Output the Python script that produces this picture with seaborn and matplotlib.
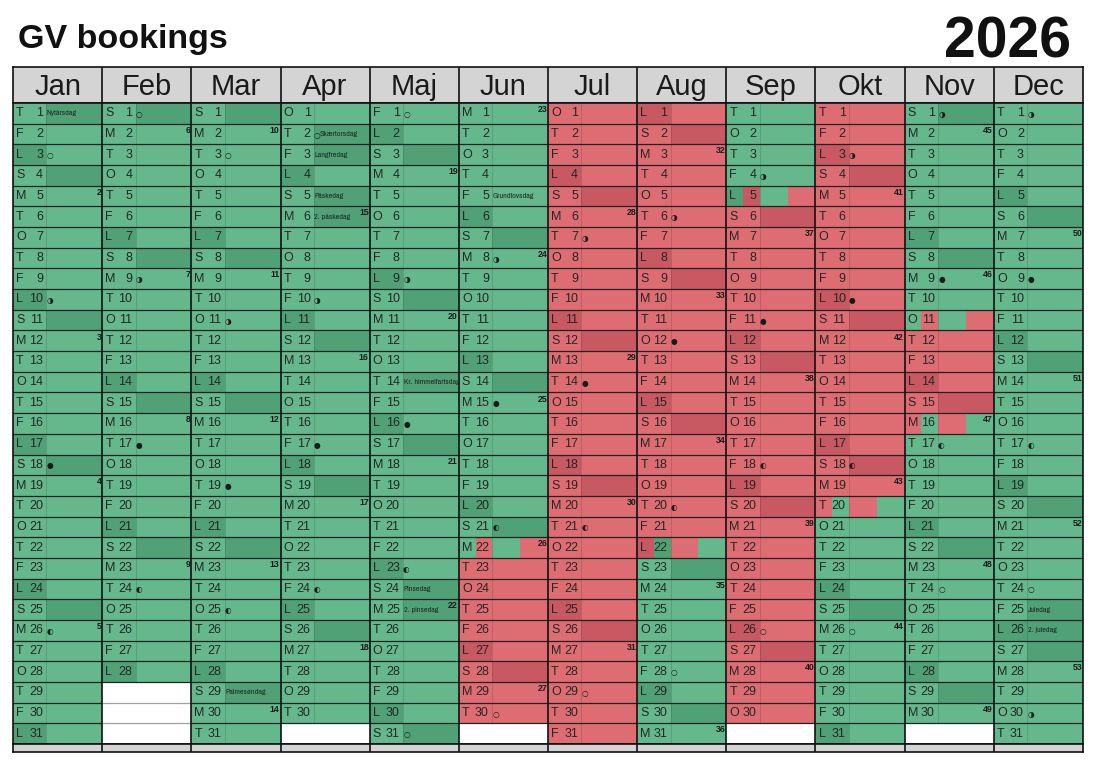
import calendar
import datetime as dt
import numpy as np
import matplotlib
matplotlib.use("Agg")
import matplotlib.pyplot as plt
from matplotlib.colors import ListedColormap
from matplotlib import font_manager
from matplotlib.font_manager import FontProperties
import seaborn as sns

# ==============================
# Data
# ==============================
YEAR = 2026
months = ["Jan", "Feb", "Mar", "Apr", "Maj", "Jun",
          "Jul", "Aug", "Sep", "Okt", "Nov", "Dec"]
weekday_letters = ["M", "T", "O", "T", "F", "L", "S"]

# booked periods (first day = arrival, last day = departure)
bookings = [("2026-06-22", "2026-08-22"),
            ("2026-09-05", "2026-10-20"),
            ("2026-11-11", "2026-11-16")]

holiday_names = {(1, 1): "Nytårsdag", (3, 29): "Palmesøndag",
                 (4, 2): "Skærtorsdag", (4, 3): "Langfredag",
                 (4, 5): "Påskedag", (4, 6): "2. påskedag",
                 (5, 14): "Kr. himmelfartsdag", (5, 24): "Pinsedag",
                 (5, 25): "2. pinsedag", (6, 5): "Grundlovsdag",
                 (12, 25): "Juledag", (12, 26): "2. juledag"}
shaded_holidays = [(1, 1), (4, 2), (4, 3), (4, 5), (4, 6),
                   (5, 14), (5, 24), (5, 25), (12, 25), (12, 26)]

full_moon = [(1, 3), (2, 1), (3, 3), (4, 2), (5, 1), (5, 31), (6, 30),
             (7, 29), (8, 28), (9, 26), (10, 26), (11, 24), (12, 24)]
last_quarter = [(1, 10), (2, 9), (3, 11), (4, 10), (5, 9), (6, 8), (7, 7),
                (8, 6), (9, 4), (10, 3), (11, 1), (12, 1), (12, 30)]
new_moon = [(1, 18), (2, 17), (3, 19), (4, 17), (5, 16), (6, 15), (7, 14),
            (8, 12), (9, 11), (10, 10), (11, 9), (12, 9)]
first_quarter = [(1, 26), (2, 24), (3, 25), (4, 24), (5, 23), (6, 21),
                 (7, 21), (8, 20), (9, 18), (10, 18), (11, 17), (12, 17)]

moon = {}
for md in full_moon:
    moon[md] = "○"
for md in last_quarter:
    moon[md] = "◑"
for md in new_moon:
    moon[md] = "●"
for md in first_quarter:
    moon[md] = "◐"

# ==============================
# Style
# ==============================
sns.set_style("white")
plt.rcParams["font.family"] = ["Liberation Sans", "DejaVu Sans"]


def find_narrow_font():
    # look for any installed condensed / narrow regular face
    best = None
    for f in font_manager.fontManager.ttflist:
        is_narrow = ("Narrow" in f.name or "Condensed" in f.name
                     or f.stretch in ("condensed", "semi-condensed", "extra-condensed"))
        if not is_narrow or f.style != "normal":
            continue
        if f.weight not in (400, "normal", "regular"):
            continue
        if best is None or "Narrow" in f.name:
            best = f
    return best


nf = find_narrow_font()
if nf is not None:
    holiday_font = FontProperties(fname=nf.fname, size=6.3)
else:
    holiday_font = FontProperties(family="DejaVu Sans", size=4.6)

colors = ["#ffffff", "#64b88c", "#50a176", "#dd6d72", "#c85862"]
cmap = ListedColormap(colors)
grey = ListedColormap(["#d4d4d4"])
text_col = "#262626"

SUB = 16
seg_edges = [0, 3, 6, 11, 16]

# ==============================
# Build cell codes
# ==============================
periods = [(dt.date.fromisoformat(a), dt.date.fromisoformat(b)) for a, b in bookings]

codes = np.zeros((31, 12 * SUB))
for m in range(1, 13):
    ndays = calendar.monthrange(YEAR, m)[1]
    for d in range(1, ndays + 1):
        day = dt.date(YEAR, m, d)
        red = [0, 0, 0, 0]
        for a, b in periods:
            if day == a:
                red = [0, 1, 0, 1]
            elif day == b:
                red = [1, 0, 1, 0]
            elif a < day < b:
                red = [1, 1, 1, 1]
        dark = [0, 0, 0, 0]
        if day.weekday() == 5:
            dark[0] = dark[1] = 1
        if day.weekday() == 6 or (m, d) in shaded_holidays:
            dark[2] = dark[3] = 1
        for s in range(4):
            x0 = (m - 1) * SUB + seg_edges[s]
            x1 = (m - 1) * SUB + seg_edges[s + 1]
            codes[d - 1, x0:x1] = 1 + 2 * red[s] + dark[s]

# ==============================
# Figure
# ==============================
W, H = 1096, 765
fig = plt.figure(figsize=(W / 100, H / 100), dpi=100)


def px_axes(x0, y0, x1, y1):
    return fig.add_axes([x0 / W, 1 - y1 / H, (x1 - x0) / W, (y1 - y0) / H])


ax_head = px_axes(13, 67, 1083, 103)
ax = px_axes(13, 103, 1083, 744)
ax_foot = px_axes(13, 744, 1083, 752)

# header
sns.heatmap(np.zeros((1, 12)), cmap=grey, cbar=False, ax=ax_head,
            xticklabels=False, yticklabels=False)
for i, name in enumerate(months):
    ax_head.text(i + 0.5, 0.56, name, ha="center", va="center",
                 fontsize=21, color="#1a1a1a")
for i in range(1, 12):
    ax_head.axvline(i, color="#111111", lw=1.2)

# day cells
sns.heatmap(codes, cmap=cmap, vmin=-0.5, vmax=4.5, cbar=False, ax=ax,
            xticklabels=False, yticklabels=False)

for m in range(1, 13):
    ndays = calendar.monthrange(YEAR, m)[1]
    x0 = (m - 1) * SUB
    for r in range(1, 31):
        c = "#222222" if r <= ndays else "#a0a0a0"
        ax.hlines(r, x0, x0 + SUB, color=c, lw=0.9)
    ax.vlines(x0 + 6, 0, ndays, color="black", alpha=0.15, lw=0.6)
    for d in range(1, ndays + 1):
        day = dt.date(YEAR, m, d)
        y = d - 0.5
        ax.text(x0 + 0.55, y, weekday_letters[day.weekday()], ha="left",
                va="center", fontsize=9, color=text_col)
        ax.text(x0 + 5.4, y, str(d), ha="right", va="center",
                fontsize=9, color=text_col)
        hx = x0 + 6.1
        if (m, d) in moon:
            ax.text(x0 + 6.0, y + 0.05, moon[(m, d)], ha="left", va="center",
                    fontsize=5.5, color="#1a1a1a",
                    family=["DejaVu Sans"])
            hx = x0 + 7.0
        if (m, d) in holiday_names:
            ax.text(hx, y, holiday_names[(m, d)], ha="left", va="center",
                    fontproperties=holiday_font, color="#1f2a24", clip_on=False)
        if day.weekday() == 0:
            wk = day.isocalendar()[1]
            ax.text(x0 + SUB - 0.15, d - 1 + 0.1, str(wk), ha="right", va="top",
                    fontsize=6.3, fontweight="bold", color="#1a1a1a")

for i in range(1, 12):
    ax.axvline(i * SUB, color="#111111", lw=1.2)

# footer strip
sns.heatmap(np.zeros((1, 12)), cmap=grey, cbar=False, ax=ax_foot,
            xticklabels=False, yticklabels=False)
for i in range(1, 12):
    ax_foot.axvline(i, color="#111111", lw=1.2)

for a in (ax_head, ax, ax_foot):
    for s in a.spines.values():
        s.set_visible(True)
        s.set_color("#111111")
        s.set_linewidth(1.2)

# titles
fig.text(18 / W, 1 - 48 / H, "GV bookings", fontsize=24.5, fontweight="bold",
         ha="left", va="baseline", color="#111111")
fig.text(1071 / W, 1 - 58 / H, str(YEAR), fontsize=41, fontweight="bold",
         ha="right", va="baseline", color="#111111")

fig.savefig("out.png", dpi=100)
